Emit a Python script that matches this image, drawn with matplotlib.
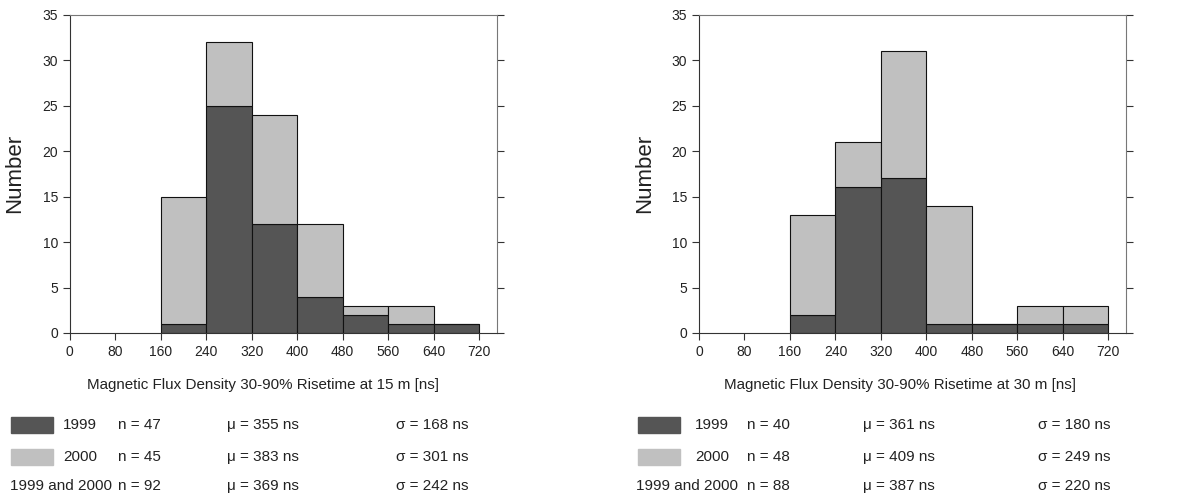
import matplotlib
matplotlib.use('Agg')
import matplotlib.pyplot as plt
from matplotlib.patches import Rectangle

plt.rcParams['font.family'] = ['Liberation Sans', 'DejaVu Sans']
plt.rcParams['font.size'] = 10

# histogram bins (ns)
bin_left = [160, 240, 320, 400, 480, 560, 640]
bin_width = 80
x_ticks = [0, 80, 160, 240, 320, 400, 480, 560, 640, 720]

# 15 m
n1999_15 = [1, 25, 12, 4, 2, 1, 1]
n2000_15 = [14, 7, 12, 8, 1, 2, 0]
# 30 m
n1999_30 = [2, 16, 17, 1, 1, 1, 1]
n2000_30 = [11, 5, 14, 13, 0, 2, 2]

xlabels = ['Magnetic Flux Density 30-90% Risetime at 15 m [ns]',
           'Magnetic Flux Density 30-90% Risetime at 30 m [ns]']
stats_15 = [('1999', 'n = 47', 'μ = 355 ns', 'σ = 168 ns'),
            ('2000', 'n = 45', 'μ = 383 ns', 'σ = 301 ns'),
            ('1999 and 2000', 'n = 92', 'μ = 369 ns', 'σ = 242 ns')]
stats_30 = [('1999', 'n = 40', 'μ = 361 ns', 'σ = 180 ns'),
            ('2000', 'n = 48', 'μ = 409 ns', 'σ = 249 ns'),
            ('1999 and 2000', 'n = 88', 'μ = 387 ns', 'σ = 220 ns')]

dark = '#555555'
light = '#c0c0c0'

W, H = 1177, 500
fig = plt.figure(figsize=(W / 100, H / 100), dpi=100)


def px(x, y):
    return x / W, 1 - y / H


def panel(left_px, d1999, d2000, xlabel, xlab_center):
    ax = fig.add_axes([left_px / W, (H - 333) / H, 427 / W, 318.3 / H])
    ax.bar(bin_left, d1999, width=bin_width, align='edge', color=dark,
           edgecolor='#111111', linewidth=0.8)
    ax.bar(bin_left, d2000, width=bin_width, align='edge', bottom=d1999,
           color=light, edgecolor='#111111', linewidth=0.8)
    ax.set_xlim(0, 751)
    ax.set_ylim(0, 35)
    ax.set_xticks(x_ticks)
    ax.set_yticks(range(0, 36, 5))
    ax.tick_params(direction='out', length=5, width=0.8, colors='#333333',
                   labelcolor='#222222', labelsize=10)
    ax.tick_params(axis='y', right=True, labelright=False)
    for s in ['left', 'bottom']:
        ax.spines[s].set_color('#333333')
    for s in ['top', 'right']:
        ax.spines[s].set_color('#777777')
    ax.set_ylabel('Number', fontsize=16, color='#222222', labelpad=12)
    ax.set_xlabel(xlabel, fontsize=10.9, color='#222222')
    ax.xaxis.set_label_coords((xlab_center - left_px) / 427, -0.14)
    return ax


panel(69.7, n1999_15, n2000_15, xlabels[0], 263)
panel(699, n1999_30, n2000_30, xlabels[1], 900)


def stats_block(rows, sw_x, year_x, n_x, mu_x, sig_x, all_x):
    ys = [425, 457, 486]
    for i, (name, n, mu, sig) in enumerate(rows):
        y = ys[i]
        if i < 2:
            fig.patches.append(Rectangle(px(sw_x, y + 8), 42 / W, 16 / H,
                                         transform=fig.transFigure,
                                         color=dark if i == 0 else light))
            fig.text(*px(year_x, y), name, fontsize=11, va='center', color='#222222')
        else:
            fig.text(*px(all_x, y), name, fontsize=11, va='center', color='#222222')
        fig.text(*px(n_x, y), n, fontsize=11, va='center', color='#222222')
        fig.text(*px(mu_x, y), mu, fontsize=11, va='center', color='#222222')
        fig.text(*px(sig_x, y), sig, fontsize=11, va='center', color='#222222')


stats_block(stats_15, 11, 63, 118, 227, 396, 10)
stats_block(stats_30, 638, 695, 747, 863, 1038, 636)

fig.savefig('out.png', dpi=100)
